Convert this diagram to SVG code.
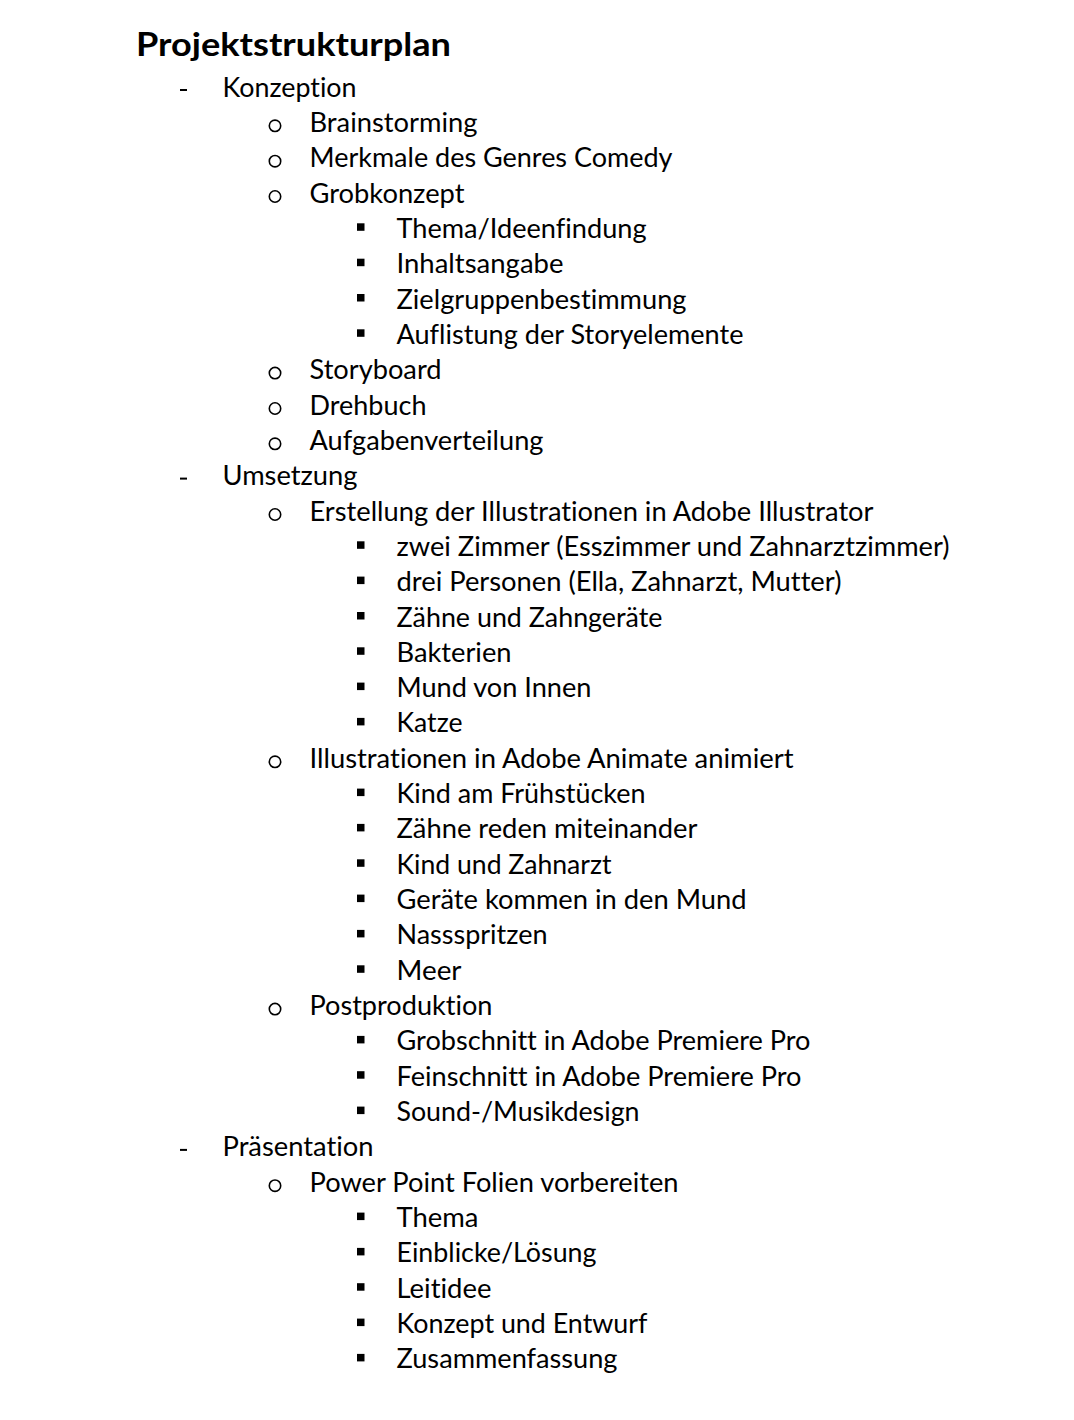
<svg xmlns="http://www.w3.org/2000/svg" width="1074" height="1420" viewBox="0 0 1074 1420">
<style>
  text { font-family: Lato, "Open Sans", "Liberation Sans", sans-serif; fill: #000; font-variant-ligatures: none; font-feature-settings: "liga" 0, "clig" 0; }
  .t { font-size: 26px; }
  .h { font-size: 33px; font-weight: bold; }
  .d { fill: #000; }
  .c { fill: none; stroke: #000; stroke-width: 1.6; }
  .s { fill: #000; }
</style>
<defs>
  <rect id="dash" class="d" x="0" y="-7.5" width="7" height="2"/>
  <circle id="circ" class="c" cx="0" cy="-6" r="5.7"/>
  <rect id="sq" class="s" x="0" y="-14.5" width="7.5" height="7.5"/>
</defs>
<rect width="1074" height="1420" fill="#fff"/>
<g id="title"><text class="h" x="136" y="56" textLength="315" lengthAdjust="spacingAndGlyphs">Projektstrukturplan</text></g>

<g id="konzeption">
  <use href="#dash" x="180" y="96.5"/><text class="t" x="222.5" y="96.5" textLength="134" lengthAdjust="spacingAndGlyphs">Konzeption</text>
  <use href="#circ" x="275" y="131.8"/><text class="t" x="309.5" y="131.8" textLength="168" lengthAdjust="spacingAndGlyphs">Brainstorming</text>
  <use href="#circ" x="275" y="167.2"/><text class="t" x="309.5" y="167.2" textLength="363" lengthAdjust="spacingAndGlyphs">Merkmale des Genres Comedy</text>
  <use href="#circ" x="275" y="202.5"/><text class="t" x="309.5" y="202.5" textLength="155" lengthAdjust="spacingAndGlyphs">Grobkonzept</text>
  <use href="#sq" x="357" y="237.8"/><text class="t" x="396.5" y="237.8" textLength="250" lengthAdjust="spacingAndGlyphs">Thema/Ideenfindung</text>
  <use href="#sq" x="357" y="273.2"/><text class="t" x="396.5" y="273.2" textLength="167" lengthAdjust="spacingAndGlyphs">Inhaltsangabe</text>
  <use href="#sq" x="357" y="308.5"/><text class="t" x="396.5" y="308.5" textLength="290" lengthAdjust="spacingAndGlyphs">Zielgruppenbestimmung</text>
  <use href="#sq" x="357" y="343.8"/><text class="t" x="396.5" y="343.8" textLength="347" lengthAdjust="spacingAndGlyphs">Auflistung der Storyelemente</text>
  <use href="#circ" x="275" y="379.1"/><text class="t" x="309.5" y="379.1" textLength="132" lengthAdjust="spacingAndGlyphs">Storyboard</text>
  <use href="#circ" x="275" y="414.5"/><text class="t" x="309.5" y="414.5" textLength="117" lengthAdjust="spacingAndGlyphs">Drehbuch</text>
  <use href="#circ" x="275" y="449.8"/><text class="t" x="309.5" y="449.8" textLength="234" lengthAdjust="spacingAndGlyphs">Aufgabenverteilung</text>
</g>

<g id="umsetzung">
  <use href="#dash" x="180" y="485.1"/><text class="t" x="222.5" y="485.1" textLength="135" lengthAdjust="spacingAndGlyphs">Umsetzung</text>
  <use href="#circ" x="275" y="520.5"/><text class="t" x="309.5" y="520.5" textLength="564" lengthAdjust="spacingAndGlyphs">Erstellung der Illustrationen in Adobe Illustrator</text>
  <use href="#sq" x="357" y="555.8"/><text class="t" x="396.5" y="555.8" textLength="553" lengthAdjust="spacingAndGlyphs">zwei Zimmer (Esszimmer und Zahnarztzimmer)</text>
  <use href="#sq" x="357" y="591.1"/><text class="t" x="396.5" y="591.1" textLength="445" lengthAdjust="spacingAndGlyphs">drei Personen (Ella, Zahnarzt, Mutter)</text>
  <use href="#sq" x="357" y="626.5"/><text class="t" x="396.5" y="626.5" textLength="266" lengthAdjust="spacingAndGlyphs">Zähne und Zahngeräte</text>
  <use href="#sq" x="357" y="661.8"/><text class="t" x="396.5" y="661.8" textLength="115" lengthAdjust="spacingAndGlyphs">Bakterien</text>
  <use href="#sq" x="357" y="697.1"/><text class="t" x="396.5" y="697.1" textLength="195" lengthAdjust="spacingAndGlyphs">Mund von Innen</text>
  <use href="#sq" x="357" y="732.4"/><text class="t" x="396.5" y="732.4" textLength="66" lengthAdjust="spacingAndGlyphs">Katze</text>
  <use href="#circ" x="275" y="767.8"/><text class="t" x="309.5" y="767.8" textLength="484" lengthAdjust="spacingAndGlyphs">Illustrationen in Adobe Animate animiert</text>
  <use href="#sq" x="357" y="803.1"/><text class="t" x="396.5" y="803.1" textLength="249" lengthAdjust="spacingAndGlyphs">Kind am Frühstücken</text>
  <use href="#sq" x="357" y="838.4"/><text class="t" x="396.5" y="838.4" textLength="301" lengthAdjust="spacingAndGlyphs">Zähne reden miteinander</text>
  <use href="#sq" x="357" y="873.8"/><text class="t" x="396.5" y="873.8" textLength="215" lengthAdjust="spacingAndGlyphs">Kind und Zahnarzt</text>
  <use href="#sq" x="357" y="909.1"/><text class="t" x="396.5" y="909.1" textLength="350" lengthAdjust="spacingAndGlyphs">Geräte kommen in den Mund</text>
  <use href="#sq" x="357" y="944.4"/><text class="t" x="396.5" y="944.4" textLength="151" lengthAdjust="spacingAndGlyphs">Nassspritzen</text>
  <use href="#sq" x="357" y="979.8"/><text class="t" x="396.5" y="979.8" textLength="65" lengthAdjust="spacingAndGlyphs">Meer</text>
  <use href="#circ" x="275" y="1015.1"/><text class="t" x="309.5" y="1015.1" textLength="183" lengthAdjust="spacingAndGlyphs">Postproduktion</text>
  <use href="#sq" x="357" y="1050.4"/><text class="t" x="396.5" y="1050.4" textLength="414" lengthAdjust="spacingAndGlyphs">Grobschnitt in Adobe Premiere Pro</text>
  <use href="#sq" x="357" y="1085.7"/><text class="t" x="396.5" y="1085.7" textLength="405" lengthAdjust="spacingAndGlyphs">Feinschnitt in Adobe Premiere Pro</text>
  <use href="#sq" x="357" y="1121.1"/><text class="t" x="396.5" y="1121.1" textLength="243" lengthAdjust="spacingAndGlyphs">Sound-/Musikdesign</text>
</g>

<g id="praesentation">
  <use href="#dash" x="180" y="1156.4"/><text class="t" x="222.5" y="1156.4" textLength="151" lengthAdjust="spacingAndGlyphs">Präsentation</text>
  <use href="#circ" x="275" y="1191.7"/><text class="t" x="309.5" y="1191.7" textLength="369" lengthAdjust="spacingAndGlyphs">Power Point Folien vorbereiten</text>
  <use href="#sq" x="357" y="1227.1"/><text class="t" x="396.5" y="1227.1" textLength="82" lengthAdjust="spacingAndGlyphs">Thema</text>
  <use href="#sq" x="357" y="1262.4"/><text class="t" x="396.5" y="1262.4" textLength="200" lengthAdjust="spacingAndGlyphs">Einblicke/Lösung</text>
  <use href="#sq" x="357" y="1297.7"/><text class="t" x="396.5" y="1297.7" textLength="95" lengthAdjust="spacingAndGlyphs">Leitidee</text>
  <use href="#sq" x="357" y="1333.1"/><text class="t" x="396.5" y="1333.1" textLength="251" lengthAdjust="spacingAndGlyphs">Konzept und Entwurf</text>
  <use href="#sq" x="357" y="1368.4"/><text class="t" x="396.5" y="1368.4" textLength="221" lengthAdjust="spacingAndGlyphs">Zusammenfassung</text>
</g>
</svg>
